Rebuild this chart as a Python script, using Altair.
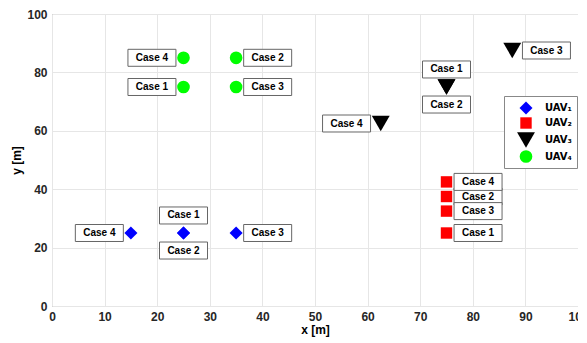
import altair as alt
import pandas as pd

uav_names = ["UAV₁", "UAV₂", "UAV₃", "UAV₄"]
uav_colors = ["#0000ff", "#ff0000", "#000000", "#00ff00"]
uav_shapes = ["diamond", "square", "triangle-down", "circle"]
uav_sizes = [170, 130, 320, 160]

point_uav = ["UAV₁"] * 4 + ["UAV₂"] * 4 + ["UAV₃"] * 4 + ["UAV₄"] * 4
point_case = ["Case 1", "Case 2", "Case 3", "Case 4"] * 4
point_x = [25, 25, 35, 15,
           75, 75, 75, 75,
           75, 75, 87.5, 62.5,
           25, 35, 35, 25]
point_y = [25, 25, 25, 25,
           25, 37.5, 32.5, 42.5,
           75, 75, 87.5, 62.5,
           75, 85, 75, 85]
label_x = [25, 25, 41, 9,
           81, 81, 81, 81,
           75, 75, 94, 56,
           19, 41, 41, 19]
label_y = [31, 19, 25, 25,
           25, 37.5, 32.5, 42.5,
           81, 69, 87.5, 62.5,
           75, 85, 75, 85]

df = pd.DataFrame({
    "uav": point_uav, "case": point_case,
    "x": point_x, "y": point_y, "lx": label_x, "ly": label_y,
})

FONT = "Liberation Sans"
ticks = list(range(0, 101, 10))

def axis(title, tpad):
    return alt.Axis(values=ticks, grid=True, gridColor="#e6e6e6", ticks=False,
                    domain=False, labelFont=FONT, labelFontWeight="bold",
                    labelFontSize=12, labelColor="#262626", labelPadding=5,
                    labelFlush=False, title=title, titleFont=FONT,
                    titleFontSize=12, titleFontWeight="bold", titleColor="#000000",
                    titlePadding=tpad)

xs = alt.Scale(domain=[0, 100], nice=False)
ys = alt.Scale(domain=[0, 100], nice=False)

base = alt.Chart(df)

box_path = "M-1,-0.354L1,-0.354L1,0.354L-1,0.354Z"
boxes = base.mark_point(shape=box_path, size=2304, filled=True, fill="white",
                        stroke="#666666", strokeWidth=1, opacity=1).encode(
    x=alt.X("lx:Q", scale=xs, axis=axis("x [m]", 2)),
    y=alt.Y("ly:Q", scale=ys, axis=axis("y [m]", 3)),
)
texts = base.mark_text(font=FONT, fontWeight="bold", fontSize=10, color="black").encode(
    x=alt.X("lx:Q", scale=xs),
    y=alt.Y("ly:Q", scale=ys),
    text="case:N",
)

leg = alt.Legend(title=None, orient="none", legendX=452, legendY=82,
                 fillColor="white", strokeColor="#888888", padding=5,
                 symbolOffset=8, labelOffset=10, rowPadding=2,
                 labelFont="DejaVu Sans", labelFontWeight="bold", labelFontSize=10,
                 labelColor="#000000", symbolStrokeWidth=0)

points = base.mark_point(filled=True, opacity=1, strokeWidth=0).encode(
    x=alt.X("x:Q", scale=xs),
    y=alt.Y("y:Q", scale=ys),
    color=alt.Color("uav:N", scale=alt.Scale(domain=uav_names, range=uav_colors), legend=leg),
    shape=alt.Shape("uav:N", scale=alt.Scale(domain=uav_names, range=uav_shapes), legend=leg),
    size=alt.Size("uav:N", scale=alt.Scale(type="ordinal", domain=uav_names, range=uav_sizes), legend=leg),
)

chart = alt.layer(boxes, texts, points).properties(
    width=526, height=292,
    autosize=alt.AutoSizeParams(type="none"),
    padding={"left": 44, "top": 6, "right": 0, "bottom": 33},
).configure_view(stroke="#8c8c8c", strokeWidth=1)

chart.save("out.html", embed_options={"renderer": "svg", "actions": False})
